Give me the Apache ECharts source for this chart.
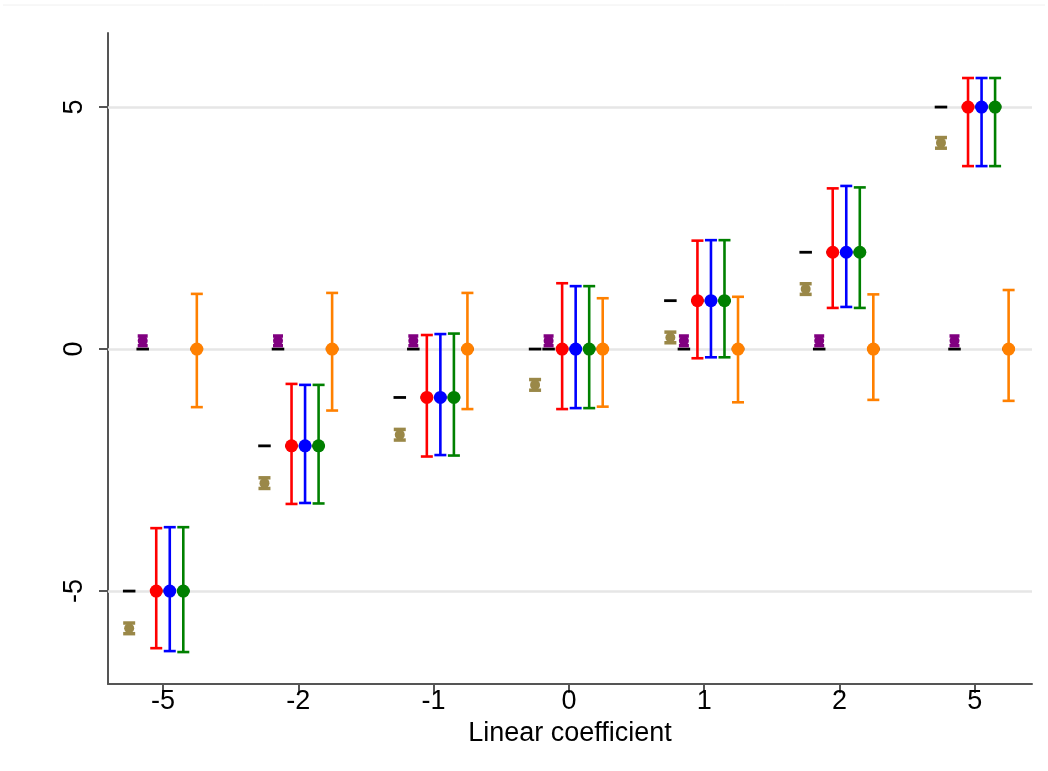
<!DOCTYPE html>
<html>
<head>
<meta charset="utf-8">
<script src="https://cdn.jsdelivr.net/npm/echarts@6/dist/echarts.min.js"></script>
<style>
html,body{margin:0;padding:0;background:#fff;}
#chart{width:1048px;height:771px;}
</style>
</head>
<body>
<div id="chart"></div>
<script>
// ---------- data ----------
const categories = ['-5', '-2', '-1', '0', '1', '2', '5'];
const yTickValues = [-5, 0, 5];

// true values (black dashes)
const trueLinear = [-5, -2, -1, 0, 1, 2, 5];
const trueZero = [0, 0, 0, 0, 0, 0, 0];

// tan estimator (slot 1)
const tanPoint = [-5.77, -2.77, -1.77, -0.74, 0.24, 1.24, 4.26];
const tanLow   = [-5.88, -2.88, -1.88, -0.85, 0.13, 1.13, 4.15];
const tanHigh  = [-5.66, -2.66, -1.66, -0.63, 0.35, 1.35, 4.37];

// purple estimator (slot 2)
const purplePoint = [0.17, 0.17, 0.17, 0.17, 0.17, 0.17, 0.17];
const purpleLow   = [0.07, 0.07, 0.07, 0.07, 0.07, 0.07, 0.07];
const purpleHigh  = [0.27, 0.27, 0.27, 0.27, 0.27, 0.27, 0.27];

// red estimator (slot 3)
const redPoint = [-5, -2, -1, 0, 1, 2, 5];
const redLow   = [-6.18, -3.20, -2.22, -1.24, -0.19, 0.85, 3.78];
const redHigh  = [-3.70, -0.72, 0.29, 1.36, 2.24, 3.32, 5.60];

// blue estimator (slot 4)
const bluePoint = [-5, -2, -1, 0, 1, 2, 5];
const blueLow   = [-6.24, -3.18, -2.19, -1.22, -0.17, 0.87, 3.78];
const blueHigh  = [-3.68, -0.74, 0.31, 1.30, 2.25, 3.37, 5.60];

// green estimator (slot 5)
const greenPoint = [-5, -2, -1, 0, 1, 2, 5];
const greenLow   = [-6.26, -3.19, -2.20, -1.22, -0.17, 0.85, 3.78];
const greenHigh  = [-3.68, -0.74, 0.32, 1.30, 2.25, 3.34, 5.60];

// orange estimator (slot 6)
const orangePoint = [0, 0, 0, 0, 0, 0, 0];
const orangeLow   = [-1.20, -1.27, -1.24, -1.19, -1.10, -1.05, -1.07];
const orangeHigh  = [1.14, 1.16, 1.16, 1.05, 1.08, 1.13, 1.22];

// ---------- layout helpers ----------
const slotWidth = 0.1;
function slotOffset(k) { return (k - 2.5) * slotWidth; }   // k = 0..5

const FONT = "'Liberation Sans', Arial, sans-serif";
const AX = '#555555';

function errData(slot, low, high) {
  return low.map((l, i) => [i + slotOffset(slot), l, high[i]]);
}
function ptData(slot, pts) {
  return pts.map((v, i) => [i + slotOffset(slot), v]);
}

function errSeries(name, color, slot, low, high, capPx, lw, capLw, z) {
  return {
    name, type: 'custom', z, silent: true,
    data: errData(slot, low, high),
    encode: { x: 0, y: [1, 2] },
    renderItem: function (params, api) {
      const x = api.value(0);
      const lo = api.coord([x, api.value(1)]);
      const hi = api.coord([x, api.value(2)]);
      const h = capPx / 2;
      const st = { stroke: color, lineWidth: lw, fill: null };
      const cst = { stroke: color, lineWidth: capLw, fill: null };
      return {
        type: 'group',
        children: [
          { type: 'line', shape: { x1: lo[0], y1: lo[1], x2: hi[0], y2: hi[1] }, style: st },
          { type: 'line', shape: { x1: lo[0] - h, y1: lo[1], x2: lo[0] + h, y2: lo[1] }, style: cst },
          { type: 'line', shape: { x1: hi[0] - h, y1: hi[1], x2: hi[0] + h, y2: hi[1] }, style: cst }
        ]
      };
    }
  };
}
function ptSeries(name, color, slot, pts, size, z) {
  return {
    name, type: 'scatter', z, silent: true,
    data: ptData(slot, pts),
    symbol: 'circle', symbolSize: size,
    itemStyle: { color: color, opacity: 1 }
  };
}
function dashSeries(name, slots, vals) {
  const d = [];
  slots.forEach((s, j) => vals[j].forEach((v, i) => d.push([i + slotOffset(s), v])));
  return {
    name, type: 'custom', z: 10, silent: true,
    data: d, encode: { x: 0, y: 1 },
    renderItem: function (params, api) {
      const x = api.value(0), y = api.value(1);
      const a = api.coord([x - slotWidth / 2, y]);
      const b = api.coord([x + slotWidth / 2, y]);
      return { type: 'line', shape: { x1: a[0] + 0.5, y1: a[1], x2: b[0] - 0.5, y2: b[1] },
               style: { stroke: '#000000', lineWidth: 2.8 } };
    }
  };
}

const chart = echarts.init(document.getElementById('chart'), null, { renderer: 'canvas' });

const option = {
  backgroundColor: '#ffffff',
  animation: false,
  graphic: [
    { type: 'line', shape: { x1: 3, y1: 5, x2: 1045, y2: 5 }, style: { stroke: '#f0f0f0', lineWidth: 1 } }
  ],
  grid: { left: 108, right: 16, top: 33, bottom: 87, containLabel: false },
  xAxis: {
    type: 'value', min: -0.4065, max: 6.4228,
    name: 'Linear coefficient', nameLocation: 'middle', nameGap: 25,
    nameTextStyle: { fontFamily: FONT, fontSize: 27, color: '#000' },
    axisLine: { show: true, onZero: false, lineStyle: { color: AX, width: 2 } },
    axisTick: { show: true, length: 9, customValues: [0, 1, 2, 3, 4, 5, 6], lineStyle: { color: AX, width: 2 } },
    axisLabel: {
      show: true, margin: 4, fontFamily: FONT, fontSize: 27, color: '#000',
      customValues: [0, 1, 2, 3, 4, 5, 6],
      formatter: v => categories[Math.round(v)]
    },
    splitLine: { show: false }
  },
  yAxis: {
    type: 'value', min: -6.92, max: 6.53,
    axisLine: { show: true, onZero: false, lineStyle: { color: AX, width: 2 } },
    axisTick: { show: true, length: 9, customValues: yTickValues, lineStyle: { color: AX, width: 2 } },
    axisLabel: {
      show: true, rotate: 90, margin: 20, fontFamily: FONT, fontSize: 27, color: '#000',
      customValues: yTickValues, formatter: v => String(v)
    },
    splitLine: { show: false }
  },
  series: [
    {
      name: 'grid', type: 'line', data: [], z: 1, silent: true,
      markLine: {
        z: 1, silent: true, symbol: ['none', 'none'], label: { show: false },
        lineStyle: { color: '#e6e6e6', width: 2.5, type: 'solid' },
        data: yTickValues.map(v => ({ yAxis: v }))
      }
    },
    dashSeries('true', [0, 1, 2, 3, 4, 5],
      [trueLinear, trueZero, trueLinear, trueLinear, trueLinear, trueZero]),
    errSeries('tanCI', '#9a8848', 0, tanLow, tanHigh, 12, 4, 3.5, 11),
    ptSeries('tan', '#9a8848', 0, tanPoint, 10, 12),
    errSeries('purpleCI', '#800080', 1, purpleLow, purpleHigh, 10, 4, 3.5, 11),
    ptSeries('purple', '#800080', 1, purplePoint, 10, 12),
    errSeries('redCI', '#ff0000', 2, redLow, redHigh, 12, 2.6, 2.6, 11),
    ptSeries('red', '#ff0000', 2, redPoint, 13, 12),
    errSeries('blueCI', '#0000ff', 3, blueLow, blueHigh, 12, 2.6, 2.6, 11),
    ptSeries('blue', '#0000ff', 3, bluePoint, 13, 12),
    errSeries('greenCI', '#008000', 4, greenLow, greenHigh, 12, 2.6, 2.6, 11),
    ptSeries('green', '#008000', 4, greenPoint, 13, 12),
    errSeries('orangeCI', '#ff8000', 5, orangeLow, orangeHigh, 12, 2.6, 2.6, 11),
    ptSeries('orange', '#ff8000', 5, orangePoint, 13, 12)
  ]
};
chart.setOption(option);
</script>
</body>
</html>
